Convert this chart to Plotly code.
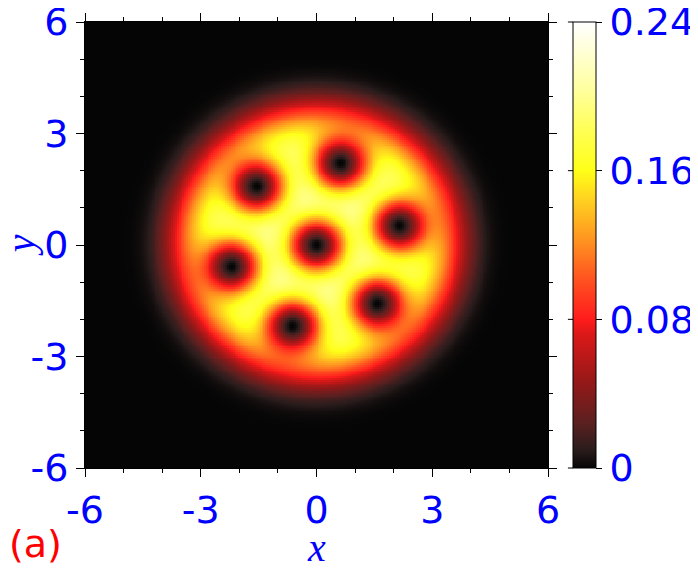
import numpy as np
import plotly.graph_objects as go

# vortex positions
vortex_x = [0.0, 0.62, -1.55, 2.15, -2.2, 1.58, -0.62]
vortex_y = [0.0, 2.2, 1.58, 0.52, -0.58, -1.58, -2.18]

# cloud profile (peak density, radius, edge sharpness, vortex core size)
peak = 0.23
radius = 3.6
edge_power = 6
core = 0.76
center_y = 0.05

cbar_ticks = [0, 0.08, 0.16, 0.24]
cbar_text = ["0", "0.08", "0.16", "0.24"]
axis_ticks = [-6, -3, 0, 3, 6]
axis_text = ["-6", "-3", "0", "3", "6"]

grid = np.linspace(-6, 6, 241)
X, Y = np.meshgrid(grid, grid)
r = np.sqrt(X**2 + (Y - center_y)**2)
dens = peak * np.exp(-(r / radius) ** edge_power)
for vx, vy in zip(vortex_x, vortex_y):
    d2 = (X - vx)**2 + (Y - vy)**2
    dens *= 1 - np.exp(-d2 / core**2)

hot = [
    [0.0, "#050505"], [0.04, "#2a1c1c"], [0.1, "#5a2020"], [0.2, "#9a1818"],
    [0.3, "#dc1818"], [0.333, "#ff1c1c"], [0.42, "#ff5020"], [0.5, "#ff8c20"],
    [0.6, "#ffd020"], [0.667, "#ffff18"], [0.75, "#ffff50"], [0.85, "#ffffa0"],
    [1.0, "#ffffff"],
]

blue = "#0000ff"
tfont = dict(family="DejaVu Sans", size=38, color=blue)
title_font = dict(family="Liberation Serif", size=40, color=blue)

fig = go.Figure(go.Heatmap(
    x=grid, y=grid, z=dens, zmin=0, zmax=0.24, colorscale=hot,
    colorbar=dict(
        x=1.054, xanchor="left", xref="paper", xpad=0, ypad=0,
        len=1, lenmode="fraction", y=0.5, thickness=23,
        outlinecolor="black", outlinewidth=1,
        tickvals=cbar_ticks, ticktext=cbar_text, ticklabeloverflow="allow",
        ticks="outside", ticklen=6, tickcolor="black", tickfont=tfont,
    ),
))

axis = dict(
    range=[-6, 6], tickvals=axis_ticks, ticktext=axis_text, ticks="outside", ticklen=8,
    tickcolor="black", showline=True, linecolor="black", linewidth=1,
    mirror="ticks", showgrid=False, zeroline=False, tickfont=tfont, automargin=False,
    ticklabeloverflow="allow",
    minor=dict(dtick=1, ticks="outside", ticklen=4, tickcolor="black"),
)
fig.update_xaxes(**axis)
fig.update_yaxes(**axis)

# axis titles
fig.add_annotation(text="<i>x</i>", xref="paper", yref="paper", x=0.5, y=-0.178,
                   xanchor="center", yanchor="middle", showarrow=False, font=title_font)
fig.add_annotation(text="<i>y</i>", xref="paper", yref="paper", x=-0.14, y=0.5,
                   xanchor="center", yanchor="middle", textangle=-90,
                   showarrow=False, font=title_font)

# small ticks on the left side of the colour bar
for v in cbar_ticks:
    fig.add_shape(type="line", xref="paper", yref="paper",
                  x0=1.043, x1=1.054, y0=v / 0.24, y1=v / 0.24,
                  line=dict(color="black", width=1))

fig.add_annotation(text="(a)", xref="paper", yref="paper", x=-0.168, y=-0.225,
                   xanchor="left", yanchor="bottom", showarrow=False,
                   font=dict(family="DejaVu Sans", size=38, color="red"))

# the page adds an 8px body margin, so the figure is 8px smaller on each axis
fig.update_layout(
    width=690, height=561, margin=dict(l=77, r=150, t=14, b=101, autoexpand=False),
    plot_bgcolor="white", paper_bgcolor="white", showlegend=False,
)
fig.write_html("out.html")
